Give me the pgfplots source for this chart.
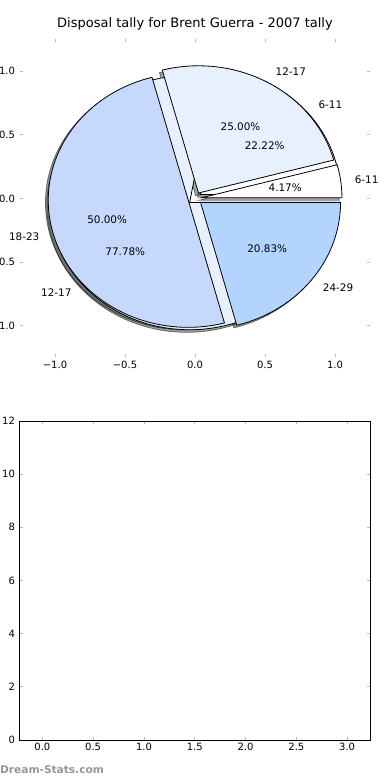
\documentclass[border=0pt]{standalone}
\usepackage{fontspec}
\setmainfont{DejaVu Sans}
\usepackage{pgfplots}
\pgfplotsset{compat=1.18}

\definecolor{c611}{RGB}{255,255,255}
\definecolor{c1217}{RGB}{232,240,254}
\definecolor{c1823}{RGB}{198,217,253}
\definecolor{c2429}{RGB}{179,212,255}
\definecolor{wmgray}{RGB}{150,150,150}

\newcommand\tickfont{\fontsize{10}{12}\selectfont}
\newcommand\lblfont{\fontsize{10.4}{12}\selectfont}
\newcommand\titlefont{\fontsize{13}{15}\selectfont}

% wedge from angle #1 to #2 (degrees), colour #3, exploded by 0.05
\newcommand\pwedge[3]{%
  \pgfmathsetmacro\wm{(#1+#2)/2}%
  \pgfmathsetmacro\wa{#1}\pgfmathsetmacro\wb{#2}%
  \pgfmathsetmacro\wx{0.05*cos(\wm)}%
  \pgfmathsetmacro\wy{0.05*sin(\wm)}%
  \edef\tmp{\noexpand\addplot[draw=black, line width=0.8pt, fill=#3, domain=\wa:\wb, samples=90]
    ({\wx+cos(x)},{\wy+sin(x)}) -- (axis cs:\wx,\wy) -- cycle;}%
  \tmp}
\newcommand\pshadow[3]{%
  \pgfmathsetmacro\wm{(#1+#2)/2}%
  \pgfmathsetmacro\wa{#1}\pgfmathsetmacro\wb{#2}%
  \pgfmathsetmacro\wx{0.05*cos(\wm)-0.02}%
  \pgfmathsetmacro\wy{0.05*sin(\wm)-0.02}%
  \edef\tmp{\noexpand\addplot[draw=black, draw opacity=0.5, line width=0.8pt, fill=#3!30!black, fill opacity=0.5, domain=\wa:\wb, samples=90]
    ({\wx+cos(x)},{\wy+sin(x)}) -- (axis cs:\wx,\wy) -- cycle;}%
  \tmp}
% labels: #3 name, #4 percentage
\newcommand\plabel[4]{%
  \pgfmathsetmacro\wm{(#1+#2)/2}%
  \pgfmathsetmacro\lx{1.15*cos(\wm)}%
  \pgfmathsetmacro\ly{1.15*sin(\wm)}%
  \pgfmathsetmacro\qx{0.65*cos(\wm)}%
  \pgfmathsetmacro\qy{0.65*sin(\wm)}%
  \ifdim\lx pt>0pt \def\lanc{west}\else\def\lanc{east}\fi
  \edef\tmp{\noexpand\node[anchor=\lanc, inner sep=0pt, font=\noexpand\lblfont] at (axis cs:\lx,\ly) {#3};
    \noexpand\node[inner sep=0pt, font=\noexpand\lblfont] at (axis cs:\qx,\qy) {#4\noexpand\%};}%
  \tmp}

\begin{document}
\begin{tikzpicture}
\useasboundingbox (0pt,0pt) rectangle (390pt,780pt);
\begin{axis}[at={(20pt,422.5pt)}, anchor=south west, scale only axis,
  width=350pt, height=318pt,
  xmin=-1.25, xmax=1.25, ymin=-1.25, ymax=1.25, clip=false,
  axis line style={draw=none},
  xtick={-1,-0.5,0,0.5,1}, xticklabels={−1.0,−0.5,0.0,0.5,1.0},
  ytick={-1,-0.5,0,0.5,1}, yticklabels={−1.0,−0.5,0.0,0.5,1.0},
  tick label style={font=\tickfont},
  yticklabel style={xshift=-1.5pt},
  major tick length=3pt, tick style={gray!55, line width=0.8pt},
  title={Disposal tally for Brent Guerra - 2007 tally},
  title style={font=\titlefont},
]
% Pie 1 counts: 6-11:1, 12-17:6, 18-23:12, 24-29:5 (total 24)
% Pie 2 counts: 6-11:2, 12-17:7 (total 9)
% shadows
\pshadow{360*0/9}{360*2/9}{c611}
\pshadow{360*2/9}{360*9/9}{c1217}
\pshadow{360*0/24}{360*1/24}{c611}
\pshadow{360*1/24}{360*7/24}{c1217}
\pshadow{360*7/24}{360*19/24}{c1823}
\pshadow{360*19/24}{360*24/24}{c2429}
% pie 2
\pwedge{360*0/9}{360*2/9}{c611}
\pwedge{360*2/9}{360*9/9}{c1217}
% pie 1
\pwedge{360*0/24}{360*1/24}{c611}
\pwedge{360*1/24}{360*7/24}{c1217}
\pwedge{360*7/24}{360*19/24}{c1823}
\pwedge{360*19/24}{360*24/24}{c2429}
% labels
\plabel{360*0/24}{360*1/24}{6-11}{4.17}
\plabel{360*1/24}{360*7/24}{12-17}{25.00}
\plabel{360*7/24}{360*19/24}{18-23}{50.00}
\plabel{360*19/24}{360*24/24}{24-29}{20.83}
\plabel{360*0/9}{360*2/9}{6-11}{22.22}
\plabel{360*2/9}{360*9/9}{12-17}{77.78}
\end{axis}

\begin{axis}[at={(19.5pt,40pt)}, anchor=south west, scale only axis,
  width=350.5pt, height=319pt,
  xmin=-0.225, xmax=3.225, ymin=0, ymax=12,
  axis line style={black, line width=0.8pt},
  xtick={0,0.5,1,1.5,2,2.5,3}, ytick={0,2,4,6,8,10,12},
  xticklabel style={/pgf/number format/.cd, fixed, fixed zerofill, precision=1},
  /pgf/number format/assume math mode=true,
  tick label style={font=\tickfont},
  yticklabel style={xshift=-1pt},
  major tick length=3pt, tick style={gray!55, line width=0.8pt},
]
\end{axis}
\node[anchor=west, inner sep=0pt, text=wmgray, font=\fontsize{10.6}{12}\selectfont\bfseries] at (0pt,10pt) {Dream-Stats.com};
\end{tikzpicture}
\end{document}
